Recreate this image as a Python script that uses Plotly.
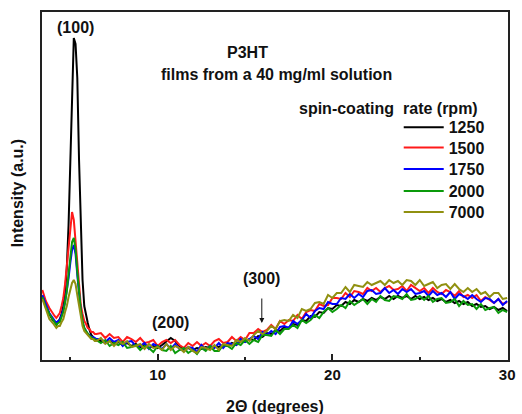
import plotly.graph_objects as go

# 2-theta sampling positions (degrees)
two_theta = [3.4, 3.6, 3.8, 4.0,
             4.1, 4.2, 4.3, 4.4, 4.5, 4.6, 4.7, 4.8, 4.9, 5.0, 5.1, 5.2, 5.3, 5.4, 5.5, 5.6, 5.7, 5.8, 5.9, 6.0, 6.1, 6.2, 6.3, 6.4, 6.5,
             6.75, 7.0, 7.25, 7.5, 7.75, 8.0, 8.25, 8.5, 8.75, 9.0, 9.25, 9.5, 9.75, 10.0,
             10.25, 10.5, 10.75, 11.0, 11.25, 11.5, 11.75, 12.0, 12.25, 12.5, 12.75, 13.0,
             13.25, 13.5, 13.75, 14.0, 14.25, 14.5, 14.75, 15.0, 15.25, 15.5, 15.75, 16.0,
             16.25, 16.5, 16.75, 17.0, 17.25, 17.5, 17.75, 18.0, 18.25, 18.5, 18.75, 19.0,
             19.25, 19.5, 19.75, 20.0, 20.25, 20.5, 20.75, 21.0, 21.25, 21.5, 21.75, 22.0,
             22.25, 22.5, 22.75, 23.0, 23.25, 23.5, 23.75, 24.0, 24.25, 24.5, 24.75, 25.0,
             25.25, 25.5, 25.75, 26.0, 26.25, 26.5, 26.75, 27.0, 27.25, 27.5, 27.75, 28.0,
             28.25, 28.5, 28.75, 29.0, 29.25, 29.5, 29.75, 30.0]

rpm_1250 = [63, 54, 46, 40,
            38, 37, 38, 41, 46, 54, 68, 92, 135, 200, 282, 322, 316, 282, 200, 128, 80, 54, 44, 37, 30, 25, 23, 21, 20,
            19, 17, 19, 16, 18, 15, 17, 14, 16, 13, 15, 12, 14, 12,
            15, 19, 22, 19, 14, 11, 12, 10, 12, 11, 13, 12,
            14, 13, 15, 14, 17, 15, 19, 18, 21, 20, 24, 23,
            27, 26, 30, 29, 33, 32, 36, 35, 40, 39, 44, 43,
            48, 47, 52, 51, 55, 54, 58, 56, 60, 58, 61, 59,
            62, 60, 63, 61, 64, 61, 64, 62, 64, 61, 64, 61,
            63, 60, 62, 59, 61, 58, 60, 57, 59, 56, 58, 54,
            56, 53, 54, 51, 53, 50, 52, 49]

rpm_1500 = [70, 59, 52, 46,
            44, 42, 45, 47, 54, 62, 76, 94, 118, 137, 148, 140, 118, 92, 70, 55, 46, 39, 36, 32, 31, 28, 28, 26, 26,
            27, 22, 26, 22, 23, 18, 23, 21, 18, 22, 17, 18, 20, 14,
            18, 20, 17, 20, 15, 12, 17, 14, 18, 14, 17, 14,
            19, 21, 17, 18, 23, 19, 23, 20, 27, 27, 31, 28,
            30, 35, 31, 39, 36, 40, 39, 45, 41, 48, 50, 49,
            56, 54, 55, 62, 62, 61, 67, 63, 69, 68, 66, 72,
            69, 72, 68, 72, 74, 70, 71, 74, 69, 75, 72, 69,
            72, 67, 72, 68, 66, 70, 68, 64, 69, 63, 65, 62,
            65, 59, 63, 60, 57, 61, 56, 58]

rpm_1750 = [65, 56, 47, 42,
            39, 37, 39, 40, 45, 50, 58, 68, 82, 97, 110, 115, 106, 85, 65, 49, 38, 32, 29, 26, 25, 23, 23, 22, 21,
            21, 18, 22, 18, 20, 14, 18, 19, 14, 14, 17, 11, 16, 14,
            11, 16, 11, 16, 11, 9, 13, 12, 8, 15, 10, 14,
            12, 17, 12, 17, 16, 15, 21, 18, 21, 24, 21, 28,
            25, 29, 26, 33, 34, 32, 39, 36, 40, 46, 42, 49,
            52, 51, 58, 56, 56, 62, 61, 66, 62, 66, 63, 69,
            70, 66, 67, 72, 67, 70, 66, 71, 68, 71, 66, 67,
            69, 64, 69, 65, 67, 63, 68, 61, 66, 64, 61, 65,
            61, 58, 62, 61, 57, 61, 55, 59]

rpm_2000 = [63, 53, 46, 40,
            37, 35, 37, 38, 43, 48, 58, 69, 86, 103, 118, 122, 111, 88, 67, 50, 39, 32, 29, 26, 24, 23, 21, 21, 20,
            17, 20, 14, 17, 15, 18, 12, 13, 15, 10, 14, 12, 8, 14,
            10, 9, 14, 7, 10, 12, 7, 10, 6, 12, 9, 14,
            9, 9, 15, 14, 11, 17, 15, 20, 16, 20, 18, 25,
            25, 24, 30, 26, 31, 31, 35, 32, 40, 37, 40, 45,
            42, 48, 52, 48, 51, 55, 52, 59, 55, 58, 61, 56,
            61, 58, 64, 60, 59, 64, 63, 61, 66, 60, 61, 64,
            60, 64, 58, 61, 62, 57, 58, 61, 54, 59, 55, 56,
            51, 56, 50, 52, 53, 47, 50, 48]

rpm_7000 = [61, 51, 41, 37,
            34, 32, 34, 34, 38, 41, 48, 54, 63, 70, 77, 80, 76, 65, 53, 42, 34, 29, 27, 24, 23, 21, 21, 19, 19,
            22, 16, 19, 14, 19, 16, 19, 13, 14, 16, 11, 16, 12, 13,
            10, 16, 10, 14, 12, 8, 13, 9, 7, 13, 12, 10,
            15, 10, 16, 15, 14, 20, 18, 22, 19, 25, 29, 26,
            29, 34, 31, 39, 40, 39, 45, 42, 51, 49, 51, 57,
            58, 56, 65, 62, 67, 67, 73, 68, 75, 74, 73, 78,
            75, 77, 79, 75, 80, 77, 79, 75, 80, 79, 75, 80,
            74, 76, 78, 72, 75, 76, 71, 76, 71, 68, 72, 68,
            71, 66, 68, 63, 67, 67, 61, 62]

series_names = ["1250", "1500", "1750", "2000", "7000"]
series_values = [rpm_1250, rpm_1500, rpm_1750, rpm_2000, rpm_7000]
series_colors = ["#000000", "#ff1a1a", "#0000ff", "#0a9a0a", "#909010"]

for v in series_values:
    if len(v) != len(two_theta):
        raise ValueError(f"length mismatch {len(v)} vs {len(two_theta)}")

FONT = "Liberation Sans, Arial, sans-serif"

fig = go.Figure()
legend_ids = ["legend", "legend2", "legend3", "legend4", "legend5"]
for name, vals, col, lid in zip(series_names, series_values, series_colors, legend_ids):
    fig.add_trace(go.Scatter(x=two_theta, y=vals, mode="lines", name=name,
                             line=dict(color=col, width=2), legend=lid))

legend_y = [0.6687, 0.6101, 0.5489, 0.4856, 0.4253]
leg_common = dict(x=0.7655, xanchor="left", yanchor="middle", bgcolor="rgba(0,0,0,0)",
                  borderwidth=0, itemwidth=40,
                  font=dict(family=FONT, size=16, color="#111", weight="bold"))
layout_legends = {}
for lid, ly in zip(legend_ids, legend_y):
    layout_legends[lid] = dict(y=ly, **leg_common)

fig.update_layout(
    width=522, height=414,
    margin=dict(l=42, r=7, t=12, b=54),
    paper_bgcolor="white", plot_bgcolor="white",
    showlegend=True,
    **layout_legends,
    xaxis=dict(range=[3.38, 30.05], tickvals=[10, 20, 30], ticktext=["10", "20", "30"],
               ticks="inside", ticklen=6, tickwidth=1.5, tickcolor="#222",
               minor=dict(tickvals=[5, 15, 25], ticks="inside", ticklen=3, tickwidth=1.5, tickcolor="#222"),
               showline=True, linecolor="#222", linewidth=1.5, mirror=True,
               showgrid=False, zeroline=False,
               tickfont=dict(family=FONT, size=15, color="#111", weight="bold")),
    yaxis=dict(range=[0, 348], showticklabels=False, ticks="",
               showline=True, linecolor="#222", linewidth=1.5, mirror=True,
               showgrid=False, zeroline=False),
)

bold = dict(family=FONT, size=16, color="#111", weight="bold")
ctr = dict(xanchor="center", yanchor="middle", showarrow=False, font=bold)
ann = [
    dict(x=5.31, y=333, xref="x", yref="y", text="<b>(100)</b>", **ctr),
    dict(x=10.72, y=38, xref="x", yref="y", text="<b>(200)</b>", **ctr),
    dict(x=15.96, y=82, xref="x", yref="y", text="<b>(300)</b>", **ctr),
    dict(x=15.12, y=308, xref="x", yref="y", text="<b>P3HT</b>", **ctr),
    dict(x=16.81, y=286, xref="x", yref="y", text="<b>films from a 40 mg/ml solution</b>", **ctr),
    dict(x=23.23, y=252, xref="x", yref="y", text="<b>spin-coating  rate (rpm)</b>", **ctr),
    dict(x=15.96, y=37, xref="x", yref="y", ax=15.96, ay=63, axref="x", ayref="y", text="",
         showarrow=True, arrowhead=2, arrowsize=1, arrowwidth=1, arrowcolor="#111"),
    dict(x=0.499, y=-0.135, xref="paper", yref="paper", text="<b>2Θ (degrees)</b>", **ctr),
    dict(x=-0.0507, y=0.48, xref="paper", yref="paper", text="<b>Intensity (a.u.)</b>", textangle=-90, **ctr),
]
fig.update_layout(annotations=ann)

fig.write_html("out.html")
